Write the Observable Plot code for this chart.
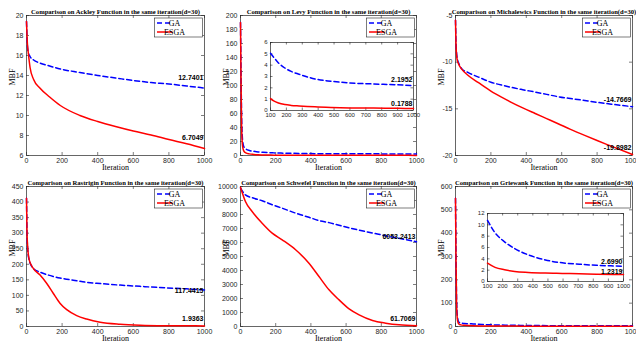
<!DOCTYPE html>
<html><head><meta charset="utf-8">
<script src="https://cdn.jsdelivr.net/npm/d3@7"></script>
<script src="https://cdn.jsdelivr.net/npm/@observablehq/plot@0.6"></script>
<style>
body{margin:0;background:#fff;}
#wrap{position:relative;width:636px;height:342px;overflow:hidden;background:#fff;}
.p{position:absolute;}
</style></head><body><div id="wrap"></div>
<script>
// ---------- data ----------
const seriesNames = ["GA", "ESGA"];
const xTicksMain = [0, 200, 400, 600, 800, 1000];
const xTicksInset = [100, 200, 300, 400, 500, 600, 700, 800, 900, 1000];

const ackleyTitle = "Comparison on Ackley Function in the same iteration(d=30)";
const ackleyIter = [0, 5, 10, 20, 40, 75, 130, 190, 300, 400, 500, 600, 700, 800, 900, 1000];
const ackleyGA   = [19.4, 17.0, 16.3, 15.9, 15.55, 15.25, 14.95, 14.65, 14.3, 14.0, 13.75, 13.5, 13.3, 13.15, 12.95, 12.7401];
const ackleyESGA = [19.4, 17.2, 16.3, 14.8, 13.6, 12.75, 11.85, 11.0, 10.0, 9.4, 8.9, 8.45, 8.05, 7.6, 7.17, 6.7049];
const ackleyYTicks = [6, 8, 10, 12, 14, 16, 18, 20];

const levyTitle = "Comparison on Levy Function in the same iteration(d=30)";
const levyIter = [0, 3, 6, 10, 15, 20, 30, 50, 75, 100, 120, 150, 190, 230, 280, 380, 480, 600, 750, 900, 1000];
const levyGA   = [190, 120, 60, 28, 16, 12, 9.5, 7.2, 6.0, 5.05, 4.7, 4.2, 3.75, 3.45, 3.2, 2.78, 2.58, 2.43, 2.34, 2.27, 2.1952];
const levyESGA = [190, 110, 45, 18, 9, 6, 3.8, 2.3, 1.5, 1.05, 0.85, 0.66, 0.52, 0.45, 0.4, 0.32, 0.27, 0.23, 0.21, 0.19, 0.1788];
const levyYTicks = [0, 20, 40, 60, 80, 100, 120, 140, 160, 180, 200];
const levyInsetYTicks = [0, 1, 2, 3, 4, 5, 6];

const michTitle = "Comparison on Michalewics Function in the same iteration(d=30)";
const michIter = [0, 3, 9, 20, 35, 70, 130, 200, 260, 315, 380, 450, 515, 580, 650, 730, 800, 880, 1000];
const michGA   = [-5.5, -8.0, -9.5, -10.2, -10.7, -11.1, -11.6, -12.15, -12.45, -12.7, -12.95, -13.2, -13.45, -13.7, -13.9, -14.1, -14.3, -14.5, -14.7669];
const michESGA = [-5.5, -8.2, -9.7, -10.3, -10.75, -11.4, -12.2, -13.1, -13.75, -14.3, -14.9, -15.5, -16.05, -16.6, -17.2, -17.85, -18.4, -19.0, -19.8982];
const michYTicks = [-20, -15, -10, -5];

const rastTitle = "Comparison on Rastrigin Function in the same iteration(d=30)";
const rastIter = [0, 3, 6, 15, 38, 75, 113, 150, 188, 226, 282, 338, 414, 526, 639, 789, 900, 1000];
const rastGA   = [412, 300, 252, 214, 187, 175, 167, 161, 156, 152, 147, 142, 138, 133, 129, 124, 121, 117.4415];
const rastESGA = [412, 300, 262, 214, 187, 166, 139, 107, 75, 54, 35, 24, 14, 7.5, 4.3, 2.6, 2.2, 1.9363];
const rastYTicks = [0, 50, 100, 150, 200, 250, 300, 350, 400, 450];

const schTitle = "Comparison on Schwefel Function in the same iteration(d=30)";
const schIter = [0, 28, 66, 123, 180, 237, 313, 389, 446, 503, 560, 617, 674, 750, 825, 901, 1000];
const schGA   = [9880, 9400, 9200, 8980, 8700, 8450, 8100, 7800, 7570, 7420, 7230, 7050, 6880, 6680, 6480, 6300, 6053.2413];
const schESGA = [9950, 8930, 8210, 7380, 6670, 6190, 5480, 4520, 3570, 2620, 1900, 1260, 830, 430, 240, 120, 61.7069];
const schYTicks = [0, 1000, 2000, 3000, 4000, 5000, 6000, 7000, 8000, 9000, 10000];

const griTitle = "Comparison on Griewank Function in the same iteration(d=30)";
const griIter = [0, 3, 6, 10, 15, 20, 30, 50, 75, 100, 150, 213, 280, 370, 483, 595, 708, 820, 933, 1000];
const griGA   = [550, 300, 120, 50, 25, 18, 15, 13, 12, 10.8, 8.6, 7.0, 5.8, 4.7, 3.8, 3.3, 3.05, 2.86, 2.75, 2.699];
const griESGA = [550, 280, 100, 35, 15, 10, 7, 5, 4, 3.25, 2.5, 2.07, 1.77, 1.6, 1.48, 1.42, 1.36, 1.3, 1.25, 1.2319];
const griYTicks = [0, 100, 200, 300, 400, 500, 600];
const griInsetYTicks = [0, 2, 4, 6, 8, 10, 12];

// ---------- drawing ----------
const wrap = document.getElementById("wrap");
function place(node, left, top) {
  const d = document.createElement("div");
  d.className = "p"; d.style.left = left + "px"; d.style.top = top + "px";
  d.appendChild(node); wrap.appendChild(d);
}
const BLUE = "#0000ff", RED = "#ff0000", AX = "#262626";
const SANS = "Liberation Sans, Arial, sans-serif";
const SERIF = "Liberation Serif, Times New Roman, serif";

function toRows(iter, vals, xmin) {
  return iter.map((x, i) => ({x, y: vals[i]})).filter(d => d.x >= xmin);
}
function innerTicks(xT, yT, iw, ih, sz) {
  const o = {stroke: AX, strokeWidth: 0.6};
  return [
    Plot.ruleX(xT, {x: d => d, insetTop: ih - sz, ...o}),
    Plot.ruleX(xT, {x: d => d, insetBottom: ih - sz, ...o}),
    Plot.ruleY(yT, {y: d => d, insetRight: iw - sz, ...o}),
    Plot.ruleY(yT, {y: d => d, insetLeft: iw - sz, ...o})
  ];
}
function legendMark(index, scales, values, dims) {
  const {width, marginRight, marginTop} = dims;
  const w = 48, h = 19;
  const x0 = width - marginRight - 1.5 - w, y0 = marginTop + 3;
  const g = d3.create("svg:g");
  g.append("rect").attr("x", x0).attr("y", y0).attr("width", w).attr("height", h)
    .attr("fill", "white").attr("stroke", AX).attr("stroke-width", 0.6);
  [[seriesNames[0], BLUE, "5,3", 5], [seriesNames[1], RED, null, 14]].forEach(([t, c, da, yy]) => {
    g.append("line").attr("x1", x0 + 2.5).attr("x2", x0 + 18).attr("y1", y0 + yy).attr("y2", y0 + yy)
      .attr("stroke", c).attr("stroke-width", 1.5).attr("stroke-dasharray", da);
    g.append("text").attr("x", x0 + 20).attr("y", y0 + yy).attr("dy", "0.35em")
      .attr("font-family", SERIF).attr("font-size", 8).attr("fill", "#000").text(t);
  });
  return g.node();
}

function mainPanel(cfg) {
  const {title, iter, ga, esga, yTicks, col, row, ml, mr, labels, dyGA, dyES} = cfg;
  const width = 212, height = 171, mt = 15, mb = 16;
  const iw = width - ml - mr, ih = height - mt - mb;
  const gaRows = toRows(iter, ga, 0), esRows = toRows(iter, esga, 0);
  const marks = [
    Plot.frame({stroke: AX, strokeWidth: 0.7}),
    ...innerTicks(xTicksMain, yTicks, iw, ih, 3),
    Plot.line(gaRows, {x: "x", y: "y", stroke: BLUE, strokeWidth: 1.5, strokeDasharray: "5,3", curve: "monotone-x"}),
    Plot.line(esRows, {x: "x", y: "y", stroke: RED, strokeWidth: 1.5, curve: "monotone-x"}),
    Plot.text([title], {text: d => d, frameAnchor: "top", dy: -1.5, lineAnchor: "bottom", fontFamily: SERIF, fontWeight: "bold", fontSize: 6.6, fill: "#000"}),
    Plot.text(["MBF"], {text: d => d, frameAnchor: "left", dx: -14, rotate: -90, fontFamily: SERIF, fontSize: 8, fill: "#000"}),
    Plot.text(["Iteration"], {text: d => d, frameAnchor: "bottom", dy: 11.5, lineAnchor: "middle", fontFamily: SERIF, fontSize: 8, fill: "#000"}),
    legendMark
  ];
  if (labels) {
    const gEnd = gaRows[gaRows.length - 1], eEnd = esRows[esRows.length - 1];
    marks.push(Plot.text([gEnd], {x: "x", y: "y", text: d => d.y.toFixed(4), textAnchor: "end", dx: -1, dy: dyGA, fontWeight: "bold", fontSize: 7, fontFamily: SANS, fill: "#000"}));
    marks.push(Plot.text([eEnd], {x: "x", y: "y", text: d => d.y.toFixed(4), textAnchor: "end", dx: -1, dy: dyES, fontWeight: "bold", fontSize: 7, fontFamily: SANS, fill: "#000"}));
  }
  const svg = Plot.plot({
    width, height, marginLeft: ml, marginRight: mr, marginTop: mt, marginBottom: mb,
    x: {domain: [0, 1000], ticks: xTicksMain, tickSize: 0, tickPadding: 2.5, label: null, tickFormat: d => String(d)},
    y: {domain: [yTicks[0], yTicks[yTicks.length - 1]], ticks: yTicks, tickSize: 0, tickPadding: 3, label: null, tickFormat: d => String(d)},
    style: {fontFamily: SANS, fontSize: "7px", background: "transparent", overflow: "visible", color: "#262626"},
    marks
  });
  place(svg, col * 212, row * 171);
}

function insetPanel(cfg) {
  const {iter, ga, esga, yTicks, left, top, right, bottom, dyGA, dyES} = cfg;
  const ml = 16, mr = 4, mt = 4, mb = 11;
  const iw = right - left, ih = bottom - top;
  const width = ml + iw + mr, height = mt + ih + mb;
  const gaRows = toRows(iter, ga, 100), esRows = toRows(iter, esga, 100);
  const gEnd = gaRows[gaRows.length - 1], eEnd = esRows[esRows.length - 1];
  const svg = Plot.plot({
    width, height, marginLeft: ml, marginRight: mr, marginTop: mt, marginBottom: mb,
    x: {domain: [100, 1000], ticks: xTicksInset, tickSize: 0, tickPadding: 2, label: null, tickFormat: d => String(d)},
    y: {domain: [yTicks[0], yTicks[yTicks.length - 1]], ticks: yTicks, tickSize: 0, tickPadding: 3, label: null, tickFormat: d => String(d)},
    style: {fontFamily: SANS, fontSize: "6px", background: "transparent", overflow: "visible", color: "#262626"},
    marks: [
      Plot.frame({fill: "white", stroke: AX, strokeWidth: 0.7}),
      ...innerTicks(xTicksInset, yTicks, iw, ih, 2.5),
      Plot.line(gaRows, {x: "x", y: "y", stroke: BLUE, strokeWidth: 1.5, strokeDasharray: "5,3", curve: "monotone-x"}),
      Plot.line(esRows, {x: "x", y: "y", stroke: RED, strokeWidth: 1.5, curve: "monotone-x"}),
      Plot.text([gEnd], {x: "x", y: "y", text: d => d.y.toFixed(4), textAnchor: "end", dx: -1, dy: dyGA, fontWeight: "bold", fontSize: 7, fontFamily: SANS, fill: "#000"}),
      Plot.text([eEnd], {x: "x", y: "y", text: d => d.y.toFixed(4), textAnchor: "end", dx: -1, dy: dyES, fontWeight: "bold", fontSize: 7, fontFamily: SANS, fill: "#000"})
    ]
  });
  place(svg, left - ml, top - mt);
}

mainPanel({title: ackleyTitle, iter: ackleyIter, ga: ackleyGA, esga: ackleyESGA, yTicks: ackleyYTicks, col: 0, row: 0, ml: 26, mr: 8, labels: true, dyGA: -10, dyES: -11});
mainPanel({title: levyTitle, iter: levyIter, ga: levyGA, esga: levyESGA, yTicks: levyYTicks, col: 1, row: 0, ml: 28, mr: 8, labels: false});
mainPanel({title: michTitle, iter: michIter, ga: michGA, esga: michESGA, yTicks: michYTicks, col: 2, row: 0, ml: 31, mr: 4, labels: true, dyGA: -7, dyES: -7});
mainPanel({title: rastTitle, iter: rastIter, ga: rastGA, esga: rastESGA, yTicks: rastYTicks, col: 0, row: 1, ml: 26, mr: 8, labels: true, dyGA: 1, dyES: -7});
mainPanel({title: schTitle, iter: schIter, ga: schGA, esga: schESGA, yTicks: schYTicks, col: 1, row: 1, ml: 28, mr: 8, labels: true, dyGA: -5, dyES: -7});
mainPanel({title: griTitle, iter: griIter, ga: griGA, esga: griESGA, yTicks: griYTicks, col: 2, row: 1, ml: 31, mr: 4, labels: false});

insetPanel({iter: levyIter, ga: levyGA, esga: levyESGA, yTicks: levyInsetYTicks, left: 270, top: 42, right: 413, bottom: 110, dyGA: -6, dyES: -5});
insetPanel({iter: griIter, ga: griGA, esga: griESGA, yTicks: griInsetYTicks, left: 487, top: 213, right: 623, bottom: 281, dyGA: -4, dyES: -3});
</script></body></html>
